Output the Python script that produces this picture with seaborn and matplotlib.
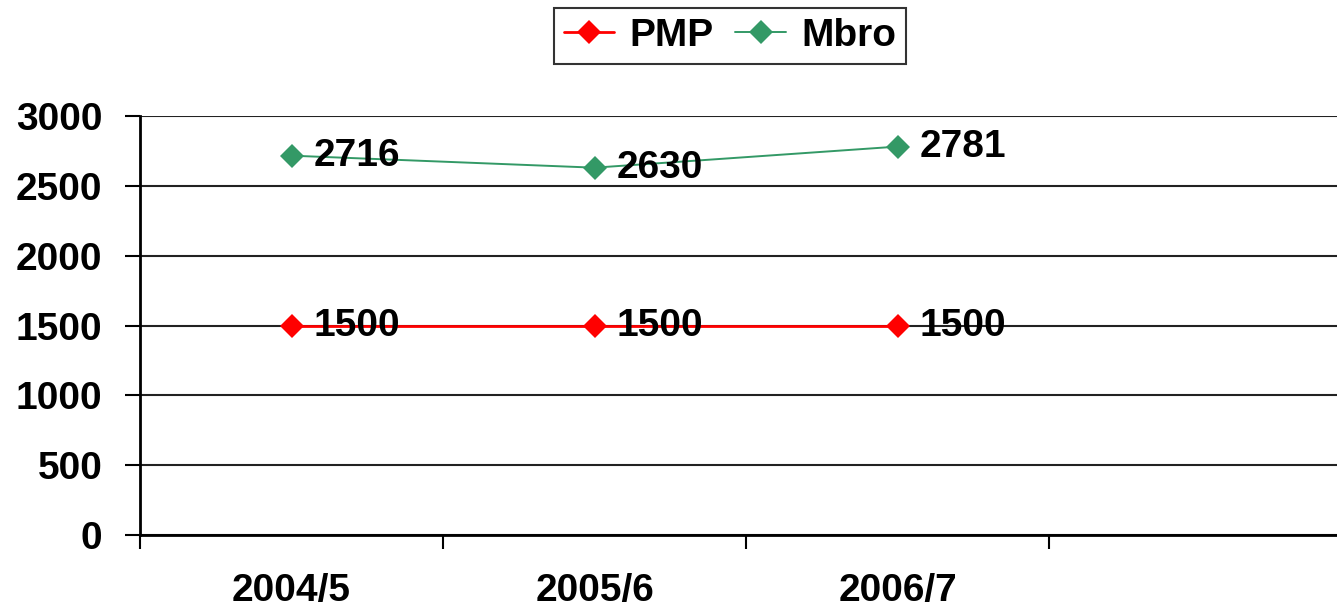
import numpy as np
import pandas as pd
import matplotlib
matplotlib.use("Agg")
import matplotlib.pyplot as plt
import seaborn as sns

# data
years = ["2004/5", "2005/6", "2006/7"]
pmp = [1500, 1500, 1500]
mbro = [2716, 2630, 2781]
series_names = ["PMP", "Mbro"]
y_ticks = [0, 500, 1000, 1500, 2000, 2500, 3000]

df = pd.DataFrame({
    "year": years * 2,
    "value": pmp + mbro,
    "series": [series_names[0]] * 3 + [series_names[1]] * 3,
})

sns.set_style("white")
plt.rcParams['font.family'] = ['Liberation Sans', 'DejaVu Sans']
plt.rcParams['font.weight'] = 'bold'
plt.rcParams['text.color'] = 'black'
plt.rcParams['xtick.color'] = 'black'
plt.rcParams['ytick.color'] = 'black'

colors = {"PMP": "#ff0000", "Mbro": "#339966"}
fs = 28

fig = plt.figure(figsize=(13.37, 6.09), dpi=100)
ax = fig.add_axes([140/1337, 1 - 535/609, 1 - 140/1337, (535-116)/609])

sns.lineplot(data=df, x="year", y="value", hue="series", palette=colors,
             style="series", markers={"PMP": "D", "Mbro": "D"}, dashes=False,
             markersize=12, markeredgewidth=0, ax=ax, sort=False)
for ln, lw in zip(ax.lines, [2.0, 1.4]):
    ln.set_linewidth(lw)
ax.get_legend().remove()

# value labels next to each point
for s, vals in zip(series_names, [pmp, mbro]):
    for i, v in enumerate(vals):
        ax.annotate(str(v), (i, v), xytext=(16, 0), textcoords="offset points",
                    ha="left", va="center", fontsize=fs, fontweight="bold",
                    color="black")

ax.set_ylim(0, 3000)
ax.set_xlim(-0.5, 3.45)
ax.set_yticks(y_ticks)
ax.set_yticklabels([str(t) for t in y_ticks], fontsize=fs, fontweight="bold")
ax.tick_params(axis="y", length=11, width=1.5, pad=16, left=True)

# boundary ticks (major) and labels at category centres (minor)
ax.set_xticks([-0.5, 0.5, 1.5, 2.5])
ax.set_xticklabels([])
ax.set_xticks([0, 1, 2], minor=True)
ax.set_xticklabels(years, minor=True, fontsize=fs, fontweight="bold")
ax.tick_params(axis="x", which="major", length=10, width=1.5, bottom=True, direction="out")
ax.tick_params(axis="x", which="minor", length=0, pad=27)
ax.set_xlabel("")
ax.set_ylabel("")

ax.yaxis.grid(True, color="#222222", linewidth=1.5)
ax.xaxis.grid(False)
ax.set_axisbelow(True)
for sp in ["top", "right"]:
    ax.spines[sp].set_visible(False)
for sp in ["left", "bottom"]:
    ax.spines[sp].set_color("black")
    ax.spines[sp].set_linewidth(2)

handles = ax.lines[:2]
leg = fig.legend(handles, series_names, loc="center", bbox_to_anchor=(0.546, 0.941),
                 ncol=2, frameon=True, fancybox=False, edgecolor="black",
                 prop={"size": fs, "weight": "bold"}, handlelength=1.3,
                 handletextpad=0.4, columnspacing=0.55, borderpad=0.25)
leg.get_frame().set_linewidth(1.5)

fig.savefig("out.png", dpi=100)
